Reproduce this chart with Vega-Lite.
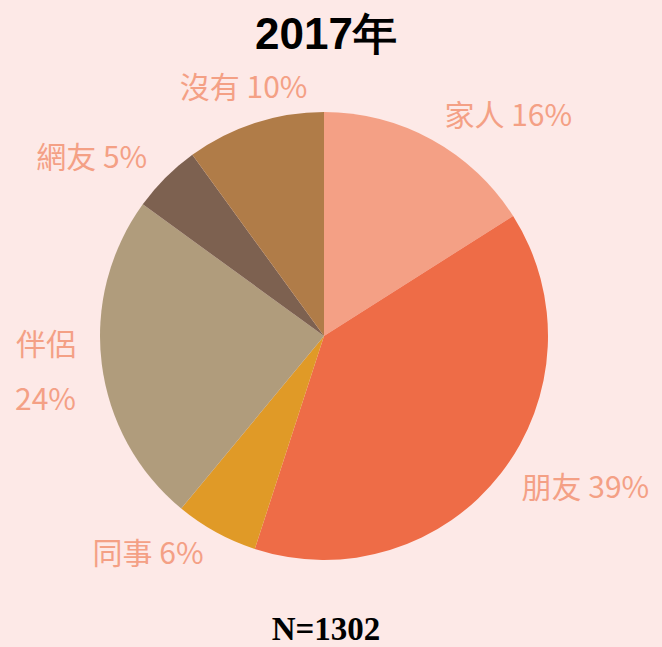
{
  "$schema": "https://vega.github.io/schema/vega-lite/v6.json",
  "width": 648,
  "height": 622,
  "autosize": "none",
  "padding": {"left": 0, "top": 25, "right": 14, "bottom": 0},
  "background": "#FDE9E7",
  "config": {"view": {"stroke": null}},
  "title": {
    "text": "2017年",
    "subtitle": "N=1302",
    "anchor": "middle",
    "orient": "top",
    "offset": -622,
    "dx": 2,
    "font": "Liberation Sans",
    "fontSize": 44,
    "fontWeight": "bold",
    "color": "#000000",
    "subtitleFont": "Liberation Serif",
    "subtitleFontSize": 33,
    "subtitleFontWeight": "bold",
    "subtitleColor": "#000000",
    "subtitlePadding": 556
  },
  "data": {
    "values": [
      {"cat": "家人", "pct": 16, "ord": 1, "label": "家人 16%", "side": "right"},
      {"cat": "朋友", "pct": 39, "ord": 2, "label": "朋友 39%", "side": "right"},
      {"cat": "同事", "pct": 6, "ord": 3, "label": "同事 6%", "side": "left"},
      {"cat": "伴侶", "pct": 24, "ord": 4, "label": "伴侶\n24%", "side": "left2"},
      {"cat": "網友", "pct": 5, "ord": 5, "label": "網友 5%", "side": "left"},
      {"cat": "沒有", "pct": 10, "ord": 6, "label": "沒有 10%", "side": "top"}
    ]
  },
  "encoding": {
    "theta": {"field": "pct", "type": "quantitative", "stack": true},
    "order": {"field": "ord", "type": "quantitative"}
  },
  "layer": [
    {
      "mark": {"type": "arc", "radius": 224},
      "encoding": {
        "color": {
          "field": "cat",
          "type": "nominal",
          "legend": null,
          "scale": {
            "domain": ["家人", "朋友", "同事", "伴侶", "網友", "沒有"],
            "range": ["#F4A085", "#EE6C47", "#E09A27", "#B09C7C", "#7D6150", "#B07C48"]
          }
        }
      }
    },
    {
      "mark": {
        "type": "text",
        "radius": 250,
        "align": "left",
        "font": "Noto Sans CJK TC",
        "fontSize": 30,
        "color": "#F4A085"
      },
      "encoding": {
        "text": {"field": "label", "type": "nominal"},
        "opacity": {"condition": {"test": "datum.side === 'right'", "value": 1}, "value": 0}
      }
    },
    {
      "mark": {
        "type": "text",
        "radius": 250,
        "align": "right",
        "font": "Noto Sans CJK TC",
        "fontSize": 30,
        "color": "#F4A085"
      },
      "encoding": {
        "text": {"field": "label", "type": "nominal"},
        "opacity": {"condition": {"test": "datum.side === 'left'", "value": 1}, "value": 0}
      }
    },
    {
      "mark": {
        "type": "text",
        "radius": 250,
        "align": "right",
        "dy": -21,
        "font": "Noto Sans CJK TC",
        "fontSize": 30,
        "color": "#F4A085",
        "lineBreak": "\n",
        "lineHeight": 55
      },
      "encoding": {
        "text": {"field": "label", "type": "nominal"},
        "opacity": {"condition": {"test": "datum.side === 'left2'", "value": 1}, "value": 0}
      }
    },
    {
      "mark": {
        "type": "text",
        "radius": 260,
        "align": "center",
        "font": "Noto Sans CJK TC",
        "fontSize": 30,
        "color": "#F4A085"
      },
      "encoding": {
        "text": {"field": "label", "type": "nominal"},
        "opacity": {"condition": {"test": "datum.side === 'top'", "value": 1}, "value": 0}
      }
    }
  ]
}
